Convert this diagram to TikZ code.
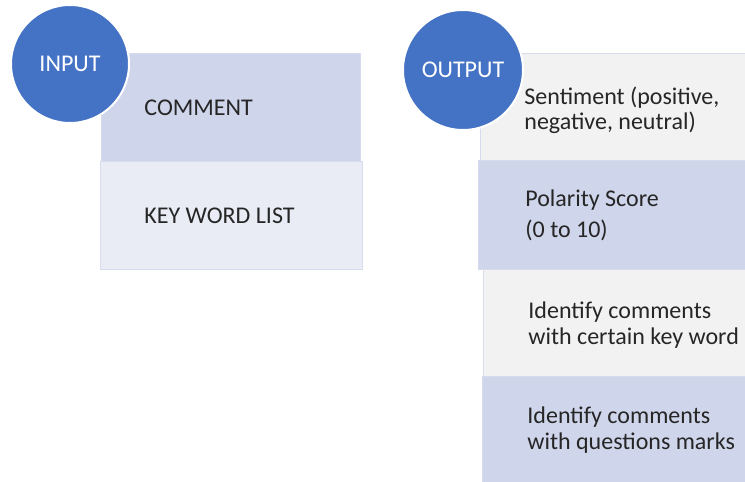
\documentclass[tikz,border=0pt]{standalone}
\usepackage{fontspec}
\setmainfont{Carlito}
\usetikzlibrary{positioning}
\definecolor{roundblue}{HTML}{4472C4}
\definecolor{lavdark}{HTML}{CFD5EA}
\definecolor{lavlight}{HTML}{E9EBF5}
\definecolor{greyfill}{HTML}{F2F2F2}
\definecolor{rimline}{HTML}{D6DCEE}
\tikzset{every node/.style={font=\fontsize{12}{12.8}\selectfont},cell/.style={draw=rimline,line width=.6pt,anchor=north west,inner sep=0pt},badge/.style={circle,fill=roundblue,draw=white,line width=1pt,text=white,minimum size=59pt,inner sep=0pt},txt/.style={align=left,inner sep=0pt,text=black!85}}

\begin{document}
\begin{tikzpicture}[x=.5pt,y=-.5pt]
\useasboundingbox (0,0) rectangle (745,482);
\clip (0,0) rectangle (745,482);
% input column
\node[cell,fill=lavdark,minimum width=129.5pt,minimum height=54pt] (comment) at (101,53) {};
\node[cell,fill=lavlight,minimum width=131pt,minimum height=54pt] (keyword) at (100,161) {};
\node[txt,right=21.5pt of comment.west] (commentlbl) {COMMENT};
\node[txt,right=22pt of keyword.west] (keywordlbl) {KEY WORD LIST};
% output column
\node[cell,fill=greyfill,minimum width=140pt,minimum height=53.5pt] (senti) at (480,53) {};
\node[cell,fill=lavdark,minimum width=141pt,minimum height=54.5pt] (polar) at (478,160) {};
\node[cell,fill=greyfill,minimum width=138pt,minimum height=53.5pt] (keyhit) at (483,269) {};
\node[cell,fill=lavdark,minimum width=138pt,minimum height=53.5pt] (quest) at (482,376) {};
\node[txt,right=22pt of senti.west,yshift=-1.5pt] (sentilbl) {Sentiment (positive,\\negative, neutral)};
\node[txt,right=23.5pt of polar.west] (polarlbl) {Polarity Score\\[2.5pt](0 to 10)};
\node[txt,right=22.5pt of keyhit.west,yshift=-1pt] (keyhitlbl) {Identify comments\\with certain key word};
\node[txt,right=22.5pt of quest.west] (questlbl) {Identify comments\\with questions marks};
% round badges
\node[badge] (inbadge) at (70,64) {INPUT};
\node[badge,minimum size=60pt] (outbadge) at (463,70) {OUTPUT};
\end{tikzpicture}
\end{document}
